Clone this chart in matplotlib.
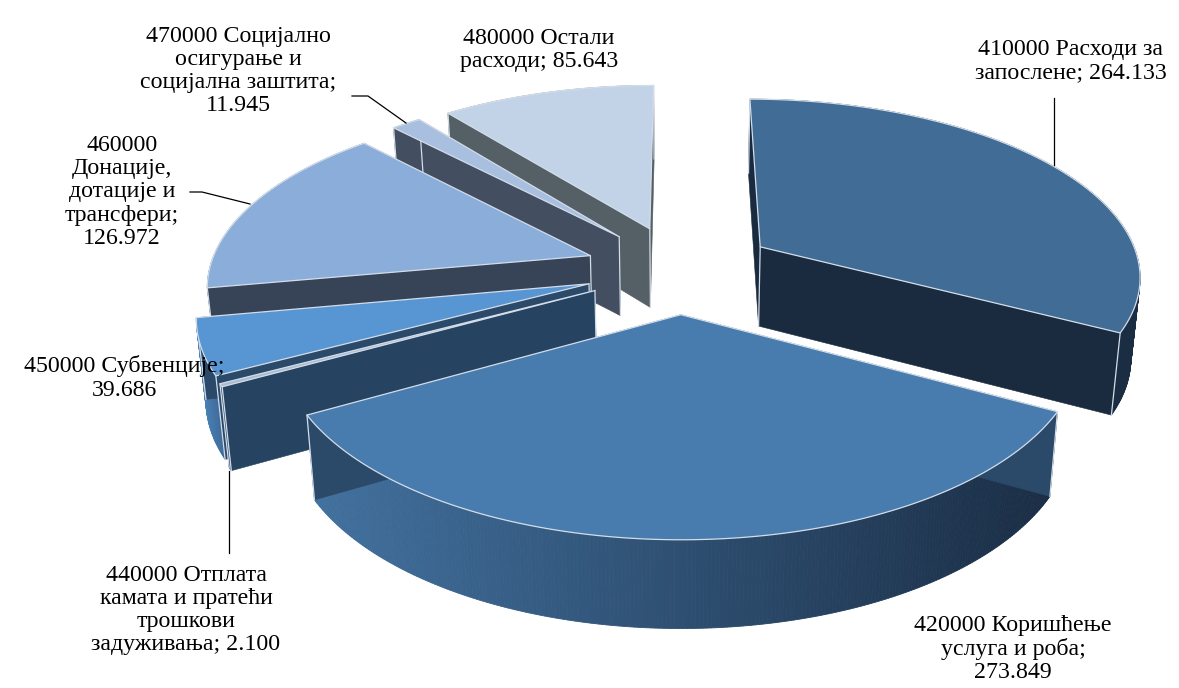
import matplotlib

matplotlib.use('Agg')

import matplotlib.pyplot as plt
import numpy as np
from matplotlib.colors import to_rgb
from matplotlib.patches import Polygon


# values in pie order, clockwise from 12 o'clock
CODES = ['410000', '420000', '440000', '450000', '460000', '470000', '480000']
VALUES = [264133, 273849, 2100, 39686, 126972, 11945, 85643]
LABELS = [
    '410000 Расходи за\nзапослене; 264.133',
    '420000 Коришћење\nуслуга и роба;\n273.849',
    '440000 Отплата\nкамата и пратећи\nтрошкови\nзадуживања; 2.100',
    '450000 Субвенције;\n39.686',
    '460000\nДонације,\nдотације и\nтрансфери;\n126.972',
    '470000 Социјално\nосигурање и\nсоцијална заштита;\n11.945',
    '480000 Остали\nрасходи; 85.643',
]
LABEL_POS = [
    (1071, 61), (1013, 649), (186, 610), (124, 378),
    (122, 192), (238, 71), (539, 50),
]
LEADERS = [
    [(1054, 98), (1054, 165)],
    [(229, 471), (229, 553)],
    [(190, 192), (202, 192), (250, 204)],
    [(352, 96), (368, 96), (406, 123)],
]

TOP_COLORS = ['#406c96', '#487cae', '#a9bcd2', '#5896d3', '#8aadd9', '#a9bfdf', '#c3d3e7']
WALL_COLORS = ['#1a2b3f', '#2b4968', '#264362', '#2b4968', '#374357', '#434f60', '#545f66']
SIDE_LEFT = ['#1b2d42', '#42719f', '#3f6d9c', '#4a80b5', '#5a7aa0', '#667b99', '#7f8c99']
SIDE_RIGHT = ['#1b2d42', '#1a2d44', '#3f6d9c', '#3f6d9c', '#5a7aa0', '#667b99', '#7f8c99']
EDGE_COLOR = '#d3dde9'
DRAW_ORDER = [6, 5, 4, 0, 3, 2, 1]

CX, CY = 680, 269
RX, RY = 381, 176
PERSP = 0.15
EXPLODE = 0.25
DEPTH = 80
BOTTOM_SHRINK = 0.98


def project(x, y):
    denom = 1 + PERSP * y
    return CX + RX * x / denom, CY - RY * y / denom


def project_bottom(x, y):
    sx, sy = project(x, y)
    denom = 1 + PERSP * y
    return CX + (sx - CX) * BOTTOM_SHRINK, sy + DEPTH * np.sqrt(1 / denom)


def slice_geometry(start, end):
    mid = (start + end) / 2
    ox = EXPLODE * np.sin(mid)
    oy = EXPLODE * np.cos(mid)
    ang = np.linspace(start, end, max(int(np.degrees(end - start)) * 2, 3))
    return ox, oy, ox + np.sin(ang), oy + np.cos(ang)


def draw_slice(ax, idx, start, end):
    ox, oy, arc_x, arc_y = slice_geometry(start, end)
    top_x, top_y = project(arc_x, arc_y)
    bot_x, bot_y = project_bottom(arc_x, arc_y)
    apex_top = project(ox, oy)
    apex_bot = project_bottom(ox, oy)

    # outer rim, one strip per arc step so it can carry a gradient
    left = np.array(to_rgb(SIDE_LEFT[idx]))
    right = np.array(to_rgb(SIDE_RIGHT[idx]))
    span = max(top_x.max() - top_x.min(), 1)
    for k in range(len(top_x) - 1):
        t = (top_x[k] - top_x.min()) / span
        color = left + (right - left) * t
        quad = [(top_x[k], top_y[k]), (top_x[k + 1], top_y[k + 1]),
                (bot_x[k + 1], bot_y[k + 1]), (bot_x[k], bot_y[k])]
        ax.add_patch(Polygon(quad, closed=True, facecolor=color, edgecolor=color,
                             linewidth=0.6, zorder=idx_z(idx) + 0.1))

    # the two flat cut faces, back one first
    walls = [(top_x[0], top_y[0], bot_x[0], bot_y[0]),
             (top_x[-1], top_y[-1], bot_x[-1], bot_y[-1])]
    walls.sort(key=lambda w: w[1])
    for n, (tx, ty, bx, by) in enumerate(walls):
        quad = [apex_top, (tx, ty), (bx, by), apex_bot]
        ax.add_patch(Polygon(quad, closed=True, facecolor=WALL_COLORS[idx],
                             edgecolor=WALL_COLORS[idx], linewidth=0.4,
                             zorder=idx_z(idx) + 0.2 + n * 0.01))
        ax.plot([tx, bx], [ty, by], color=EDGE_COLOR, linewidth=0.9,
                zorder=idx_z(idx) + 0.25)
    ax.plot([apex_top[0], apex_bot[0]], [apex_top[1], apex_bot[1]], color=EDGE_COLOR,
            linewidth=0.9, zorder=idx_z(idx) + 0.25)

    outline = [apex_top] + list(zip(top_x, top_y))
    ax.add_patch(Polygon(outline, closed=True, facecolor=TOP_COLORS[idx],
                         edgecolor=EDGE_COLOR, linewidth=0.9, joinstyle='round',
                         zorder=idx_z(idx) + 0.3))


def idx_z(idx):
    return 2 + DRAW_ORDER.index(idx)


def main():
    plt.rcParams['font.family'] = ['Liberation Serif', 'DejaVu Serif']

    fig = plt.figure(figsize=(11.79, 6.88), dpi=100)
    ax = fig.add_axes([0, 0, 1, 1])
    ax.set_xlim(0, 1179)
    ax.set_ylim(688, 0)
    ax.axis('off')

    angles = np.cumsum([0] + VALUES) / sum(VALUES) * 2 * np.pi
    for idx in range(len(VALUES)):
        draw_slice(ax, idx, angles[idx], angles[idx + 1])

    for points in LEADERS:
        xs, ys = zip(*points)
        ax.plot(xs, ys, color='black', linewidth=0.9, zorder=20)

    for label, (x, y) in zip(LABELS, LABEL_POS):
        ax.text(x, y, label, ha='center', va='center', fontsize=17.2,
                linespacing=1.13, color='black', zorder=30)

    fig.savefig('out.png', dpi=100)
    plt.close(fig)


if __name__ == "__main__":
    main()
